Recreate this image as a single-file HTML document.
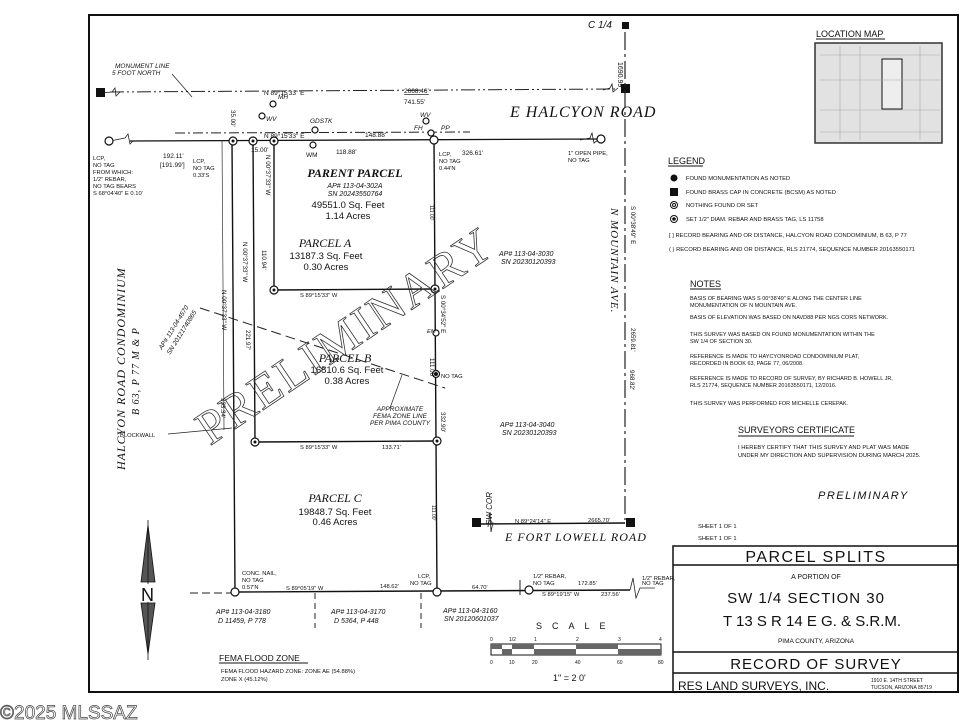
<!DOCTYPE html>
<html><head><meta charset="utf-8"><style>
html,body{margin:0;padding:0;background:#fff;}
svg{display:block;}
text{font-family:"Liberation Sans",sans-serif;fill:#111;}
.i{font-style:italic;}
.s{font-family:"Liberation Serif",serif;font-style:italic;}
.wm{font-family:"Liberation Serif",serif;fill:none;stroke:#333;stroke-width:0.8;}
.cp{font-family:"Liberation Sans",sans-serif;fill:none;stroke:#444;stroke-width:0.7;}
</style></head><body>
<svg width="960" height="720" viewBox="0 0 960 720" xmlns="http://www.w3.org/2000/svg">
<rect width="960" height="720" fill="#fff"/>
<path d="M89 15 H958 V692 H89 Z" fill="none" stroke="#111" stroke-width="2"/>

<line x1="110" y1="92" x2="615" y2="89" stroke="#222" stroke-width="1" stroke-dasharray="14,3,2,3,2,3"/>
<path d="M101 93 L112 92 L115 88 L116 96 L120 92" fill="none" stroke="#222" stroke-width="0.8"/>
<path d="M603 90 L610 88 L612 84 L613 92 L618 88" fill="none" stroke="#222" stroke-width="0.8"/>
<rect x="96" y="88" width="9" height="9" fill="#111"/>
<rect x="621" y="84" width="9" height="9" fill="#111"/>
<rect x="622" y="22" width="7" height="7" fill="#111"/>
<text x="588" y="28" class="i" font-size="10">C 1/4</text>
<text x="618" y="62" font-size="7" transform="rotate(90 618 62)">1690.99'</text>

<line x1="625" y1="32" x2="625" y2="520" stroke="#222" stroke-width="1.2" stroke-dasharray="18,4,3,4"/>

<line x1="175" y1="133" x2="470" y2="132" stroke="#222" stroke-width="1" stroke-dasharray="10,3,2,3"/>
<line x1="130" y1="141" x2="600" y2="139" stroke="#111" stroke-width="1.3"/>
<path d="M110 141 L125 138 L128 134 L130 144 L133 141" fill="none" stroke="#222" stroke-width="0.8"/>
<path d="M580 140 L590 138 L592 133 L594 143 L598 140" fill="none" stroke="#222" stroke-width="0.8"/>

<g stroke="#111" stroke-width="1.4" fill="none">
<line x1="232" y1="141" x2="235" y2="592"/>
<line x1="253" y1="141" x2="255" y2="442"/>
<line x1="274" y1="141" x2="274" y2="290"/>
<line x1="434" y1="140" x2="437" y2="592"/>
<line x1="274" y1="290" x2="435" y2="289"/>
<line x1="255" y1="442" x2="437" y2="441"/>
<line x1="235" y1="592" x2="630" y2="590"/>
<line x1="480" y1="524" x2="625" y2="523"/>
</g>
<line x1="190" y1="593" x2="232" y2="593" stroke="#222" stroke-dasharray="8,4"/>
<line x1="222" y1="140" x2="224" y2="430" stroke="#333" stroke-width="0.7"/>
<line x1="200" y1="308" x2="445" y2="388" stroke="#222" stroke-dasharray="10,5"/>
<line x1="402" y1="375" x2="390" y2="408" stroke="#222" stroke-width="0.7"/>
<line x1="168" y1="434" x2="232" y2="428" stroke="#222" stroke-width="0.7"/>
<line x1="315" y1="593" x2="315" y2="628" stroke="#222" stroke-dasharray="6,4"/>
<line x1="421" y1="593" x2="421" y2="628" stroke="#222" stroke-dasharray="6,4"/>
<line x1="520" y1="580" x2="520" y2="595" stroke="#222"/>
<path d="M630 590 L633 578 L636 598 L640 588 L655 588" fill="none" stroke="#222" stroke-width="0.8"/>
<path d="M488 527 L490 512 L491 532 L493 522" fill="none" stroke="#222" stroke-width="0.8"/>
<rect x="472" y="518" width="9" height="9" fill="#111"/>
<rect x="626" y="518" width="9" height="9" fill="#111"/>

<g fill="#fff" stroke="#111" stroke-width="1.2">
<circle cx="233" cy="141" r="4"/><circle cx="253" cy="141" r="4"/><circle cx="274" cy="141" r="4"/>
<circle cx="434" cy="140" r="4"/><circle cx="274" cy="290" r="4"/><circle cx="435" cy="289" r="4"/>
<circle cx="255" cy="442" r="4"/><circle cx="437" cy="441" r="4"/><circle cx="235" cy="592" r="4"/>
<circle cx="437" cy="592" r="4"/><circle cx="109" cy="141" r="4"/><circle cx="601" cy="139" r="4"/>
<circle cx="529" cy="590" r="4"/><circle cx="436" cy="374" r="3.5"/><circle cx="436" cy="333" r="3"/>
<circle cx="313" cy="145" r="3"/><circle cx="273" cy="104" r="3"/><circle cx="262" cy="116" r="3"/>
<circle cx="315" cy="130" r="3"/><circle cx="426" cy="121" r="3"/><circle cx="431" cy="133" r="3"/>
</g>
<g fill="#111"><circle cx="233" cy="141" r="1.5"/><circle cx="253" cy="141" r="1.5"/><circle cx="274" cy="141" r="1.5"/><circle cx="274" cy="290" r="1.5"/><circle cx="435" cy="289" r="1.5"/><circle cx="255" cy="442" r="1.5"/><circle cx="437" cy="441" r="1.5"/><circle cx="436" cy="374" r="2"/></g>

<g font-size="6.5">
<text x="264" y="95">N 89°15'33" E</text>
<text x="404" y="93" text-decoration="underline">2668.46'</text>
<text x="404" y="104">741.55'</text>
<text x="264" y="138">N 89°15'33" E</text>
<text x="365" y="137">148.88'</text>
<text x="336" y="154">118.88'</text>
<text x="462" y="155">326.61'</text>
<text x="163" y="158">192.11'</text>
<text x="160" y="167">[191.99']</text>
<text x="251" y="152">15.00'</text>
<text x="278" y="99" class="i">MH</text>
<text x="266" y="121" class="i">WV</text>
<text x="310" y="123" class="i">GDSTK</text>
<text x="306" y="157">WM</text>
<text x="420" y="117" class="i">WV</text>
<text x="414" y="130" class="i">FH</text>
<text x="441" y="130" class="i">PP</text>
<text x="115" y="68" class="i">MONUMENT LINE</text>
<text x="112" y="75" class="i">5 FOOT NORTH</text>
</g>
<line x1="172" y1="74" x2="192" y2="97" stroke="#222" stroke-width="0.7"/>
<text x="510" y="117" class="s" font-size="16" letter-spacing="1">E HALCYON ROAD</text>
<text x="505" y="541" class="s" font-size="12" letter-spacing="1">E FORT LOWELL ROAD</text>
<g font-size="5.8">
<text x="93" y="160">LCP,</text><text x="93" y="167">NO TAG</text><text x="93" y="174">FROM WHICH:</text>
<text x="93" y="181">1/2" REBAR,</text><text x="93" y="188">NO TAG BEARS</text><text x="93" y="195">S 68°04'40" E  0.10'</text>
<text x="193" y="163">LCP,</text><text x="193" y="170">NO TAG</text><text x="193" y="177">0.33'S</text>
<text x="439" y="156">LCP,</text><text x="439" y="163">NO TAG</text><text x="439" y="170">0.44'N</text>
<text x="568" y="155">1" OPEN PIPE,</text><text x="568" y="162">NO TAG</text>
<text x="441" y="378">NO TAG</text>
<text x="427" y="333" class="i">EM</text>
<text x="242" y="575">CONC. NAIL,</text><text x="242" y="582">NO TAG</text><text x="242" y="589">0.57'N</text>
<text x="418" y="578">LCP,</text><text x="410" y="585">NO TAG</text>
<text x="286" y="590">S 89°05'19" W</text>
<text x="380" y="588">148.62'</text>
<text x="472" y="589">64.70'</text>
<text x="533" y="578">1/2" REBAR,</text><text x="533" y="585">NO TAG</text>
<text x="578" y="585">172.85'</text>
<text x="542" y="596">S 89°19'15" W</text>
<text x="601" y="596">237.56'</text>
<text x="642" y="580">1/2" REBAR,</text><text x="642" y="585">NO TAG</text>
<text x="300" y="297">S 89°15'33" W</text>
<text x="300" y="449">S 89°15'33" W</text>
<text x="382" y="449">133.71'</text>
<text x="120" y="437">BLOCKWALL</text>
<text x="515" y="523">N 89°24'14" E</text>
<text x="588" y="522">2665.70'</text>
</g>
<g font-size="6.2">
<text transform="translate(231,110) rotate(90)">35.00'</text>
<text transform="translate(266,155) rotate(90)">N 00°37'33" W</text>
<text transform="translate(243,242) rotate(90)">N 00°37'33" W</text>
<text transform="translate(262,250) rotate(90)">110.94'</text>
<text transform="translate(222,290) rotate(90)">N 00°37'33" W</text>
<text transform="translate(246,330) rotate(90)">221.97'</text>
<text transform="translate(221,398) rotate(90)">333.34'</text>
<text transform="translate(441,295) rotate(90)">S 00°34'52" E</text>
<text transform="translate(430,358) rotate(90)">111.00'</text>
<text transform="translate(441,412) rotate(90)">332.90'</text>
<text transform="translate(631,206) rotate(90)">S 00°38'49" E</text>
<text transform="translate(631,328) rotate(90)">2659.81'</text>
<text transform="translate(630,370) rotate(90)">968.82'</text>
<text transform="translate(430,205) rotate(90)" font-size="5">111.00'</text>
<text transform="translate(432,505) rotate(90)" font-size="5">111.00'</text>
</g>
<text transform="translate(611,208) rotate(90)" class="s" font-size="11" letter-spacing="1">N MOUNTAIN AVE.</text>
<text transform="translate(125,470) rotate(-90)" class="s" font-size="12" letter-spacing="1">HALCYON ROAD CONDOMINIUM</text>
<text transform="translate(139,415) rotate(-90)" class="s" font-size="10" letter-spacing="1">B 63, P 77 M &amp; P</text>
<text transform="translate(162,350) rotate(-58)" class="i" font-size="6.5">AP# 113-04-4570</text>
<text transform="translate(170,355) rotate(-58)" class="i" font-size="6.5">SN 20121740865</text>
<text transform="translate(492,525) rotate(-90)" class="i" font-size="8">SW COR</text>

<text x="355" y="177" class="s" font-size="12" text-anchor="middle" font-weight="bold">PARENT PARCEL</text>
<text x="355" y="188" class="i" font-size="7" text-anchor="middle">AP# 113-04-302A</text>
<text x="355" y="196" class="i" font-size="7" text-anchor="middle">SN 20243550764</text>
<text x="348" y="208" font-size="9.5" text-anchor="middle">49551.0 Sq. Feet</text>
<text x="348" y="219" font-size="9.5" text-anchor="middle">1.14 Acres</text>
<text x="325" y="247" class="s" font-size="12" text-anchor="middle">PARCEL A</text>
<text x="326" y="259" font-size="9.5" text-anchor="middle">13187.3 Sq. Feet</text>
<text x="326" y="270" font-size="9.5" text-anchor="middle">0.30 Acres</text>
<text x="345" y="362" class="s" font-size="12" text-anchor="middle">PARCEL B</text>
<text x="347" y="373" font-size="9.5" text-anchor="middle">16510.6 Sq. Feet</text>
<text x="347" y="384" font-size="9.5" text-anchor="middle">0.38 Acres</text>
<text x="335" y="502" class="s" font-size="12" text-anchor="middle">PARCEL C</text>
<text x="335" y="515" font-size="9.5" text-anchor="middle">19848.7 Sq. Feet</text>
<text x="335" y="525" font-size="9.5" text-anchor="middle">0.46 Acres</text>
<g class="i" font-size="6.5" text-anchor="middle">
<text x="400" y="411">APPROXIMATE</text><text x="400" y="418">FEMA ZONE LINE</text><text x="400" y="425">PER PIMA COUNTY</text>
</g>
<g class="i" font-size="7">
<text x="499" y="256">AP# 113-04-3030</text><text x="501" y="264">SN 20230120393</text>
<text x="500" y="427">AP# 113-04-3040</text><text x="502" y="435">SN 20230120393</text>
<text x="216" y="614">AP# 113-04-3180</text><text x="218" y="623">D 11459, P 778</text>
<text x="331" y="614">AP# 113-04-3170</text><text x="334" y="623">D 5364, P 448</text>
<text x="443" y="613">AP# 113-04-3160</text><text x="444" y="621">SN 20120601037</text>
</g>
<text transform="translate(210,446) rotate(-34)" class="wm" font-size="48" letter-spacing="2">PRELIMINARY</text>

<polygon points="148,525 141,582 155,582" fill="#555" stroke="#111" stroke-width="0.8"/>
<polygon points="148,654 141,603 155,603" fill="#555" stroke="#111" stroke-width="0.8"/>
<line x1="148" y1="520" x2="148" y2="660" stroke="#111" stroke-width="0.8"/>
<rect x="140" y="584" width="17" height="18" fill="#fff"/>
<text x="141" y="601" font-size="18">N</text>

<text x="219" y="661" font-size="8.5">FEMA FLOOD ZONE</text>
<line x1="219" y1="663" x2="308" y2="663" stroke="#111"/>
<text x="221" y="673" font-size="5.8">FEMA FLOOD HAZARD ZONE: ZONE AE (54.88%)</text>
<text x="221" y="681" font-size="5.8">ZONE X (45.12%)</text>

<text x="536" y="629" font-size="9" letter-spacing="10">SCALE</text>
<g font-size="5">
<text x="490" y="641">0</text><text x="509" y="641">1/2</text><text x="534" y="641">1</text><text x="576" y="641">2</text><text x="618" y="641">3</text><text x="659" y="641">4</text>
<text x="490" y="664">0</text><text x="509" y="664">10</text><text x="532" y="664">20</text><text x="575" y="664">40</text><text x="617" y="664">60</text><text x="658" y="664">80</text>
</g>
<rect x="491" y="644" width="170" height="11" fill="#fff" stroke="#111"/>
<rect x="491" y="644" width="11" height="5" fill="#666"/><rect x="512" y="644" width="22" height="5" fill="#666"/>
<rect x="502" y="649" width="10" height="6" fill="#666"/><rect x="534" y="649" width="42" height="6" fill="#666"/>
<rect x="576" y="644" width="42" height="5" fill="#666"/><rect x="618" y="649" width="43" height="6" fill="#666"/>
<text x="553" y="681" font-size="9">1"  =  2 0'</text>

<text x="816" y="37" font-size="9">LOCATION MAP</text>
<line x1="816" y1="39" x2="885" y2="39" stroke="#111"/>
<rect x="815" y="43" width="127" height="100" fill="#e2e2e2" stroke="#333" stroke-width="1.5"/>
<rect x="882" y="59" width="20" height="50" fill="#eee" stroke="#111" stroke-width="1"/>
<g stroke="#aaa" stroke-width="0.6"><line x1="820" y1="55" x2="940" y2="55"/><line x1="820" y1="80" x2="940" y2="80"/><line x1="820" y1="110" x2="940" y2="110"/><line x1="820" y1="132" x2="940" y2="132"/><line x1="840" y1="46" x2="840" y2="140"/><line x1="860" y1="46" x2="860" y2="140"/><line x1="920" y1="46" x2="920" y2="140"/></g>

<text x="668" y="164" font-size="9">LEGEND</text>
<line x1="668" y1="166" x2="703" y2="166" stroke="#111"/>
<g font-size="5.8">
<circle cx="674" cy="178" r="3.5" fill="#111"/><text x="686" y="180">FOUND MONUMENTATION AS NOTED</text>
<rect x="670" y="188" width="8" height="8" fill="#111"/><text x="686" y="194">FOUND BRASS CAP IN CONCRETE (BCSM) AS NOTED</text>
<circle cx="674" cy="205" r="3.5" fill="none" stroke="#111"/><circle cx="674" cy="205" r="1.5" fill="none" stroke="#111"/><text x="686" y="207">NOTHING FOUND OR SET</text>
<circle cx="674" cy="219" r="3.5" fill="none" stroke="#111"/><circle cx="674" cy="219" r="1.8" fill="#111"/><text x="686" y="221">SET 1/2" DIAM. REBAR AND BRASS TAG, LS 11758</text>
<text x="669" y="237">[   ] RECORD BEARING AND OR DISTANCE, HALCYON ROAD CONDOMINIUM, B 63, P 77</text>
<text x="669" y="251">(   ) RECORD BEARING AND OR DISTANCE, RLS 21774, SEQUENCE NUMBER 20163550171</text>
</g>
<text x="690" y="287" font-size="9">NOTES</text>
<line x1="690" y1="289" x2="721" y2="289" stroke="#111"/>
<g font-size="5.5">
<text x="690" y="300">BASIS OF BEARING WAS S 00°38'49" E ALONG THE CENTER LINE</text>
<text x="690" y="307">MONUMENTATION OF N MOUNTAIN AVE.</text>
<text x="690" y="319">BASIS OF ELEVATION WAS BASED ON NAVD88 PER NGS CORS NETWORK.</text>
<text x="690" y="336">THIS SURVEY WAS BASED ON FOUND MONUMENTATION WITHIN THE</text>
<text x="690" y="343">SW 1/4 OF SECTION 30.</text>
<text x="690" y="358">REFERENCE IS MADE TO HAYCYONROAD CONDOMINIUM PLAT,</text>
<text x="690" y="365">RECORDED IN BOOK 63, PAGE 77, 06/2008.</text>
<text x="690" y="380">REFERENCE IS MADE TO RECORD OF SURVEY, BY RICHARD B. HOWELL JR,</text>
<text x="690" y="387">RLS 21774, SEQUENCE NUMBER 20163550171, 12/2016.</text>
<text x="690" y="405">THIS SURVEY WAS PERFORMED FOR MICHELLE CEREPAK.</text>
</g>
<text x="738" y="433" font-size="9">SURVEYORS CERTIFICATE</text>
<line x1="738" y1="436" x2="854" y2="436" stroke="#111"/>
<text x="738" y="449" font-size="5.8">I HEREBY CERTIFY THAT THIS SURVEY AND PLAT WAS MADE</text>
<text x="738" y="457" font-size="5.8">UNDER MY DIRECTION AND SUPERVISION DURING MARCH 2025.</text>
<text x="818" y="499" class="i" font-size="11" letter-spacing="1.5">PRELIMINARY</text>
<text x="698" y="528" font-size="5.8">SHEET  1  OF  1</text>
<text x="698" y="540" font-size="5.8">SHEET  1  OF  1</text>

<g fill="none" stroke="#111" stroke-width="1.5">
<rect x="673" y="546" width="285" height="146"/>
<line x1="673" y1="565" x2="958" y2="565"/><line x1="673" y1="652" x2="958" y2="652"/><line x1="673" y1="673" x2="958" y2="673"/>
</g>
<text x="816" y="562" font-size="16" text-anchor="middle" letter-spacing="1.5">PARCEL SPLITS</text>
<text x="816" y="579" font-size="7" text-anchor="middle">A PORTION OF</text>
<text x="806" y="603" font-size="15" text-anchor="middle" letter-spacing="1">SW 1/4  SECTION 30</text>
<text x="812" y="626" font-size="15" text-anchor="middle">T 13 S  R 14 E  G. &amp; S.R.M.</text>
<text x="816" y="643" font-size="6.5" text-anchor="middle">PIMA COUNTY,  ARIZONA</text>
<text x="816" y="669" font-size="15" text-anchor="middle" letter-spacing="1">RECORD OF SURVEY</text>
<text x="678" y="690" font-size="12">RES LAND SURVEYS, INC.</text>
<text x="871" y="682" font-size="5">1910 E. 14TH STREET</text>
<text x="871" y="689" font-size="5">TUCSON, ARIZONA  85719</text>

<text x="0" y="719" class="cp" font-size="19">©2025 MLSSAZ</text>
</svg>
</body></html>
